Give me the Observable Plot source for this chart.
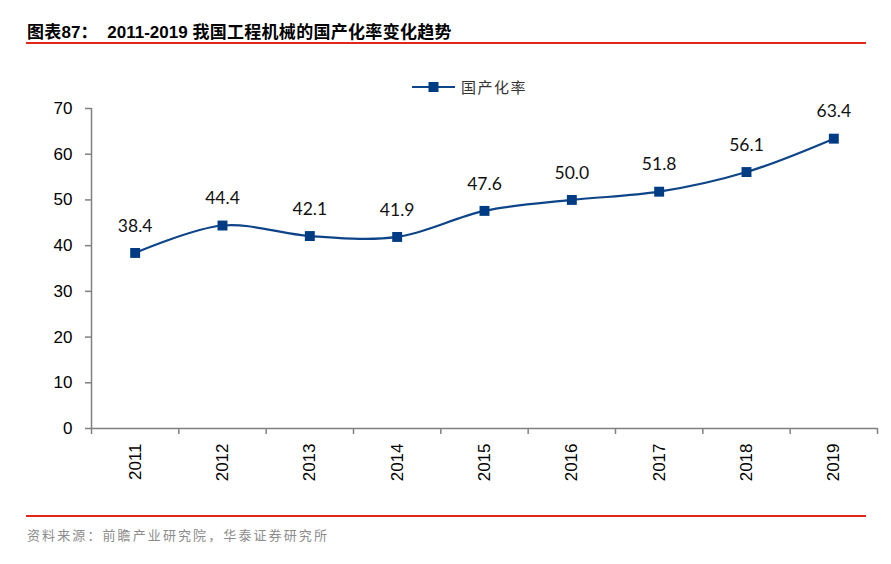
<!DOCTYPE html>
<html>
<head>
<meta charset="utf-8">
<script src="https://cdn.jsdelivr.net/npm/d3@7"></script>
<script src="https://cdn.jsdelivr.net/npm/@observablehq/plot@0.6"></script>
<style>
  body { margin: 0; background: #fff; }
  #wrap { position: relative; width: 891px; height: 564px; overflow: hidden; font-family: "Liberation Sans", Arial, sans-serif; }
  #title { position: absolute; left: 27px; top: 18px; font-size: 17px; font-weight: bold; color: #000; font-family: "Liberation Sans", "Noto Sans CJK SC", sans-serif; white-space: pre; }
  #title .cjk { font-family: "Noto Sans CJK SC", sans-serif; letter-spacing: 0.3px; }
  .redline { position: absolute; left: 26px; width: 840px; height: 2px; background: #e3261c; }
  #legend { position: absolute; left: 412px; top: 76px; display: flex; align-items: center; font-family: "Noto Sans CJK SC", sans-serif; font-size: 15px; color: #333; }
  #legend span { margin-left: 6px; letter-spacing: 1.5px; }
  #source { position: absolute; left: 27px; top: 525px; font-family: "Noto Sans CJK SC", sans-serif; font-size: 13px; color: #8c8c8c; letter-spacing: 2.1px; }
  #chart { position: absolute; left: 0; top: 0; }
</style>
</head>
<body>
<div id="wrap">
  <div id="chart"></div>
  <div id="title"><span class="cjk">图表</span>87<span class="cjk">：</span>  2011-2019 <span class="cjk">我国工程机械的国产化率变化趋势</span></div>
  <div class="redline" style="top:42px"></div>
  <div id="legend">
    <svg width="43" height="14"><line x1="0" y1="7" x2="43" y2="7" stroke="#0e4488" stroke-width="2"/><rect x="16.5" y="2" width="10" height="10" fill="#003c84"/></svg>
    <span>国产化率</span>
  </div>
  <div class="redline" style="top:515px"></div>
  <div id="source">资料来源：前瞻产业研究院，华泰证券研究所</div>
</div>
<script>
const years = [2011, 2012, 2013, 2014, 2015, 2016, 2017, 2018, 2019];
const rates = [38.4, 44.4, 42.1, 41.9, 47.6, 50.0, 51.8, 56.1, 63.4];
const yTicks = [0, 10, 20, 30, 40, 50, 60, 70];

const data = years.map((y, i) => ({year: y, rate: rates[i]}));
const xDomain = [years[0] - 0.5, years[years.length - 1] + 0.5];
const boundaries = years.map(y => y - 0.5).concat([years[years.length - 1] + 0.5]);

const axisColor = "#808080";

const chart = Plot.plot({
  width: 891,
  height: 564,
  marginTop: 108,
  marginBottom: 136,
  marginLeft: 91,
  marginRight: 14,
  style: { fontFamily: "'Liberation Sans', Arial, sans-serif", background: "transparent", overflow: "visible" },
  x: { type: "linear", domain: xDomain },
  y: { domain: [0, 70] },
  marks: [
    Plot.ruleY([0], { stroke: axisColor, strokeWidth: 1.5 }),
    Plot.ruleX([xDomain[0]], { stroke: axisColor, strokeWidth: 1.5 }),
    Plot.axisX({ ticks: boundaries, tickFormat: () => "", tickSize: 6, stroke: axisColor, strokeWidth: 1.5, label: null }),
    Plot.axisX({ ticks: years, tickFormat: d => String(d), tickSize: 0, tickPadding: 15, tickRotate: -90, fontSize: 17, fill: "#000", label: null }),
    Plot.axisY({ ticks: yTicks, tickSize: 6, tickPadding: 13, fontSize: 17, fill: "#000", stroke: axisColor, strokeWidth: 1.5, label: null }),
    Plot.line(data, { x: "year", y: "rate", curve: "catmull-rom", stroke: "#0e4488", strokeWidth: 2.2 }),
    Plot.dot(data, { x: "year", y: "rate", symbol: "square", r: 5.6, fill: "#003c84", stroke: "none" }),
    Plot.text(data, { x: "year", y: "rate", text: d => d.rate.toFixed(1), dy: -27, fontSize: 17.5, fill: "#111", fontFamily: "Lato, 'Open Sans', sans-serif" })
  ]
});
document.getElementById("chart").appendChild(chart);
</script>
</body>
</html>
